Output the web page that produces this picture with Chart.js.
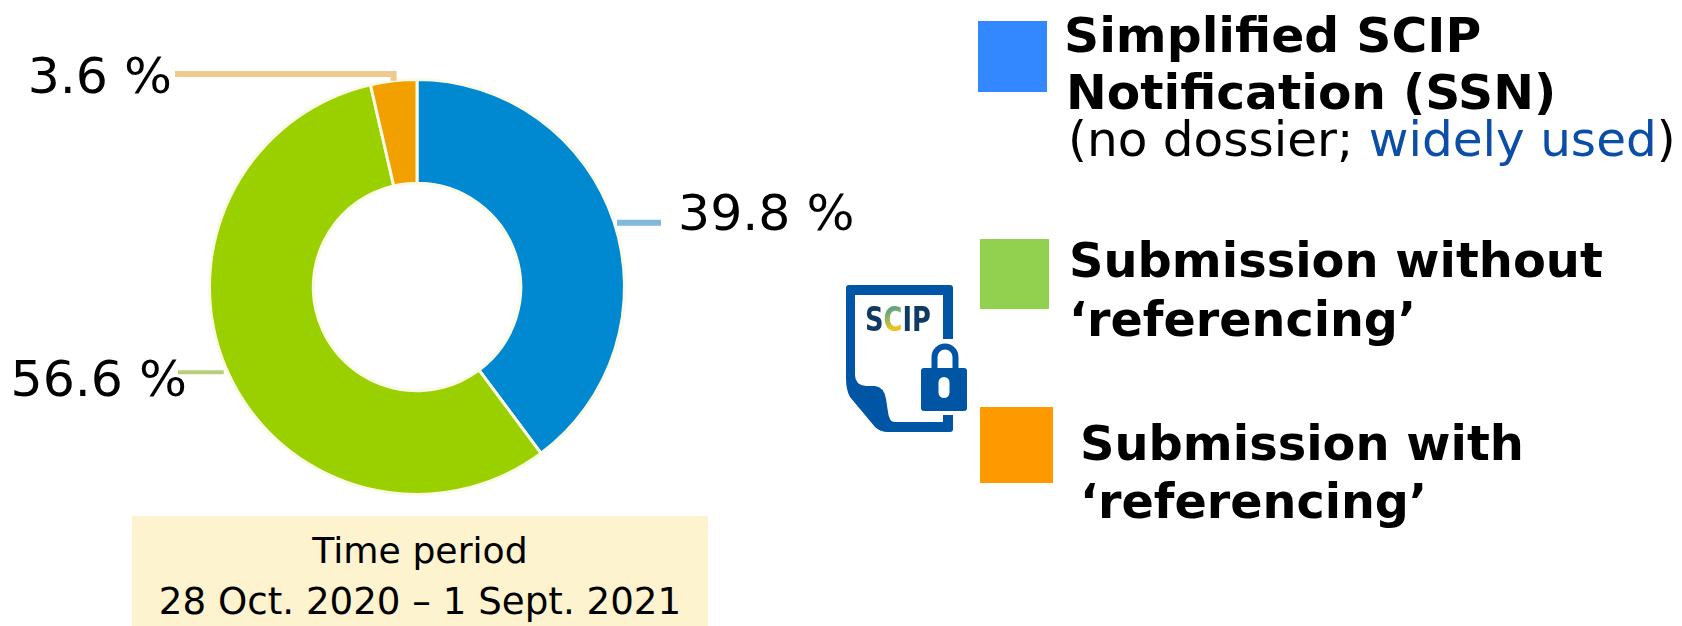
<!DOCTYPE html>
<html>
<head>
<meta charset="utf-8">
<title>SCIP submission types</title>
<script src="https://cdn.jsdelivr.net/npm/chart.js@4"></script>
<style>
    html, body { margin: 0; padding: 0; background: #fff; }
    #page { position: relative; width: 1682px; height: 626px; overflow: hidden; font-family: "DejaVu Sans", sans-serif; color: #000; }
    #myChart { position: absolute; left: 0; top: 0; }
    .swatch { position: absolute; }
    .txt { position: absolute; white-space: nowrap; line-height: 1; }
    .bold { font-weight: bold; }
    .note span { color: #0B4EA8; }
    #period { position: absolute; left: 132px; top: 516px; width: 576px; height: 110px; background: #FDF3CF; text-align: center; }
    #period div { position: absolute; left: 0; width: 100%; line-height: 1; }
    #icon { position: absolute; left: 840px; top: 280px; }
</style>
</head>
<body>
<div id="page">
    <canvas id="myChart" width="1682" height="626"></canvas>
    <div id="period"></div>
    <div id="legend"></div>
    <svg id="icon" width="140" height="160" viewBox="840 280 140 160">
        <defs>
            <linearGradient id="logoC" x1="0" y1="0" x2="0.6" y2="1">
                <stop offset="0" stop-color="#1F6FB5"/>
                <stop offset="0.45" stop-color="#7DB36A"/>
                <stop offset="0.75" stop-color="#F5C518"/>
                <stop offset="1" stop-color="#E8641E"/>
            </linearGradient>
        </defs>
        <path fill-rule="evenodd" fill="#0055A4" d="M849 285 H950 Q953 285 953 288 V429 Q953 432 950 432 H888 Q880 432 875 427 L850 397 Q846 390 846 378 V288 Q846 285 849 285 Z
            M855 295 V375 Q855 385 866 386 L875 386 Q884 387 886 399 L888 412 Q889 422 895 422 H943 V295 Z"/>
        <text x="865" y="331" font-family="'DejaVu Sans', sans-serif" font-weight="bold" font-size="33" textLength="66" lengthAdjust="spacingAndGlyphs" fill="#0F3A63">S<tspan fill="url(#logoC)">C</tspan>IP</text>
        <rect x="929" y="339" width="33" height="30" fill="#fff"/>
        <rect x="917" y="364" width="54" height="51" rx="4" fill="#fff"/>
        <path d="M934.500 368 V357 A10.500 10.500 0 0 1 955.500 357 V368" fill="none" stroke="#0055A4" stroke-width="6"/>
        <rect x="921" y="368" width="46" height="43" rx="3" fill="#0055A4"/>
        <rect x="938.500" y="377" width="11" height="21" rx="5.500" fill="#fff"/>
    </svg>
</div>

<script>
'use strict';

const categories = ['Simplified SCIP Notification (SSN)', "Submission without 'referencing'", "Submission with 'referencing'"];
const shares = [39.8, 56.6, 3.6];
const sliceColours = ['#0088D0', '#9BD000', '#F29F00'];
const leaderColours = ['#7FB9DC', '#B9CE7A', '#EFC98D'];
const periodLines = ['Time period', '28 Oct. 2020 – 1 Sept. 2021'];

// legend is laid out by hand, the blocks do not line up in the original
const legendItems = [
    { colour: '#3388FF', box: [978, 21, 69, 71], lines: [['Simplified SCIP', 1064, 53, 48.8], ['Notification (SSN)', 1066, 109, 48.7]] },
    { colour: '#92D050', box: [980, 239, 69, 70], lines: [['Submission without', 1069, 278, 47.9], ['‘referencing’', 1069, 336, 47.6]] },
    { colour: '#FF9900', box: [980, 407, 73, 76], lines: [['Submission with', 1080, 461, 47.9], ['‘referencing’', 1080, 518, 47.6]] }
];

const legend = document.getElementById('legend');
const addText = (cls, html, x, baseline, size) => {
    const el = document.createElement('div');
    el.className = 'txt ' + cls;
    el.innerHTML = html;
    el.style.left = x + 'px';
    el.style.fontSize = size + 'px';
    // line-height 1 box, DejaVu baseline sits about 0.846em under the top
    el.style.top = (baseline - size * 0.846) + 'px';
    legend.appendChild(el);
}

legendItems.forEach(item => {
    const box = document.createElement('div');
    box.className = 'swatch';
    box.style.cssText = `left:${item.box[0]}px;top:${item.box[1]}px;width:${item.box[2]}px;height:${item.box[3]}px;background:${item.colour}`;
    legend.appendChild(box);
    item.lines.forEach(l => addText('bold', l[0], l[1], l[2], l[3]));
});
addText('note', '(no dossier; <span>widely used</span>)', 1068, 156, 48.5);

const period = document.getElementById('period');
periodLines.forEach((line, i) => {
    const el = document.createElement('div');
    el.textContent = line;
    el.style.fontSize = (i === 0 ? 36.2 : 37.2) + 'px';
    el.style.top = (i === 0 ? 16.5 : 67) + 'px';
    period.appendChild(el);
});

// where each value label sits and how its leader runs from the slice midpoint
const labelSpots = [
    { textX: 678, textY: 230, align: 'left', leader: (p) => [[p.x + 3, p.y + 1], [661, p.y + 1]] },
    { textX: 187, textY: 396, align: 'right', leader: (p) => [[p.x - 5, p.y - 2], [178, p.y - 2]] },
    { textX: 172, textY: 93, align: 'right', leader: (p) => [[p.x, p.y], [p.x, 74], [175, 74]] }
];

const leaderPlugin = {
    id: 'leaderPlugin',
    afterDatasetsDraw(chart) {
        const ctx = chart.ctx;
        chart.getDatasetMeta(0).data.forEach((arc, i) => {
            const mid = (arc.startAngle + arc.endAngle) / 2;
            const p = { x: arc.x + Math.cos(mid) * arc.outerRadius, y: arc.y + Math.sin(mid) * arc.outerRadius };
            const spot = labelSpots[i];
            ctx.save();
            ctx.strokeStyle = leaderColours[i];
            ctx.lineWidth = i === 1 ? 4 : 6;
            ctx.beginPath();
            spot.leader(p).forEach((pt, n) => n === 0 ? ctx.moveTo(pt[0], pt[1]) : ctx.lineTo(pt[0], pt[1]));
            ctx.stroke();
            ctx.fillStyle = '#000';
            ctx.font = '50.5px "DejaVu Sans"';
            ctx.textAlign = spot.align;
            ctx.textBaseline = 'alphabetic';
            ctx.fillText(shares[i].toFixed(1) + ' %', spot.textX, spot.textY);
            ctx.restore();
        });
    }
};

let myChart = new Chart(document.getElementById('myChart'), {
    type: 'doughnut',
    data: {
        labels: categories,
        datasets: [{
            data: shares,
            backgroundColor: sliceColours,
            borderColor: '#FAFBE6',
            borderWidth: 3
        }]
    },
    options: {
        responsive: false,
        animation: false,
        cutout: '50%',
        layout: { padding: { left: 208, right: 1056, top: 78, bottom: 130 } },
        plugins: {
            legend: { display: false },
            tooltip: { enabled: false }
        }
    },
    plugins: [leaderPlugin]
});
</script>
</body>
</html>
